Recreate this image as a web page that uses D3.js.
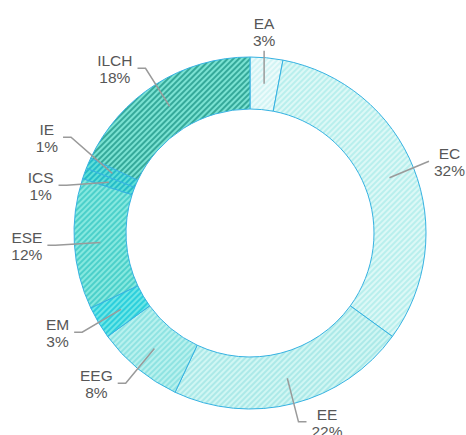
<!DOCTYPE html>
<html>
<head>
<meta charset="utf-8">
<script src="https://cdn.jsdelivr.net/npm/d3@7"></script>
<style>
  body { margin: 0; background: #fff; }
  text { font-family: "Liberation Sans", Arial, sans-serif; font-size: 15.5px; fill: #575757; }
</style>
</head>
<body>
<script>
// data
const categories = ['EA', 'EC', 'EE', 'EEG', 'EM', 'ESE', 'ICS', 'IE', 'ILCH'];
const values = [3, 32, 22, 8, 3, 12, 1, 1, 18];

// hatch colours per slice: [background, stripe]
const palette = [
  ['#ecfbfb', '#d2f4f4'],
  ['#dcf8f6', '#b9efed'],
  ['#d0f6f3', '#ace9e8'],
  ['#b8f1ee', '#8fe3e2'],
  ['#6de6e6', '#2ccfdc'],
  ['#86e8df', '#4cd0ca'],
  ['#5fded8', '#25bcc8'],
  ['#5fded8', '#25bcc8'],
  ['#7ae2d2', '#35a99a']
];

const width = 466, height = 435;
const cx = 250, cy = 233;
const outerR = 176, innerR = 124;
const midR = (outerR + innerR) / 2;
const labelR = 195;
const topLabelR = 183;
const gap = 48;

const svg = d3.select('body').append('svg')
  .attr('width', width)
  .attr('height', height);

const defs = svg.append('defs');
palette.forEach(([bg, fg], i) => {
  const p = defs.append('pattern')
    .attr('id', `hatch${i}`)
    .attr('patternUnits', 'userSpaceOnUse')
    .attr('width', 4)
    .attr('height', 4)
    .attr('patternTransform', 'rotate(45)');
  p.append('rect').attr('width', 4).attr('height', 4).attr('fill', bg);
  p.append('line')
    .attr('x1', 1).attr('y1', 0).attr('x2', 1).attr('y2', 4)
    .attr('stroke', fg).attr('stroke-width', 2);
});

const pie = d3.pie().sort(null).value(d => d.value);
const arcs = pie(categories.map((name, i) => ({ name, value: values[i] })));
const arc = d3.arc().innerRadius(innerR).outerRadius(outerR);
const total = d3.sum(values);

const g = svg.append('g').attr('transform', `translate(${cx},${cy})`);

g.selectAll('path.slice')
  .data(arcs)
  .join('path')
  .attr('class', 'slice')
  .attr('d', arc)
  .attr('fill', d => `url(#hatch${d.index})`)
  .attr('stroke', '#36b2e2')
  .attr('stroke-width', 1);

// label layout
const labels = arcs.map(d => {
  const a = (d.startAngle + d.endAngle) / 2;
  const s = Math.sin(a), c = Math.cos(a);
  const top = Math.abs(s) < 0.25 && c > 0;
  return {
    d, side: s >= 0 ? 1 : -1, top,
    sx: s * midR, sy: -c * midR,
    x: top ? s * midR : s * labelR,
    y: -c * (top ? topLabelR : labelR)
  };
});

// push overlapping labels apart on each side
[-1, 1].forEach(side => {
  const list = labels.filter(l => !l.top && l.side === side).sort((a, b) => a.y - b.y);
  for (let k = 0; k < 60; k++) {
    for (let i = 1; i < list.length; i++) {
      const o = gap - (list[i].y - list[i - 1].y);
      if (o > 0) { list[i].y += o / 2; list[i - 1].y -= o / 2; }
    }
  }
});

const lbl = g.selectAll('g.label')
  .data(labels)
  .join('g')
  .attr('class', 'label');

const txt = lbl.append('text').attr('text-anchor', 'middle');
txt.append('tspan').text(l => l.d.data.name);
txt.append('tspan').text(l => `${Math.round(l.d.data.value / total * 100)}%`);

lbl.each(function (l) {
  const t = d3.select(this).select('text');
  const w = d3.max(t.selectAll('tspan').nodes(), n => n.getComputedTextLength());
  let ex, tx;
  if (l.top) {
    ex = l.x; tx = l.x;
    t.selectAll('tspan').attr('x', tx).attr('y', (_, i) => l.y - 22 + i * 17);
  } else {
    ex = l.x + l.side * 8;
    tx = ex + l.side * (5 + w / 2);
    // keep text inside the chart
    const right = cx + tx + w / 2;
    if (right > width - 1) {
      tx -= right - (width - 1);
      ex = tx - l.side * (5 + w / 2);
    }
    const left = cx + tx - w / 2;
    if (left < 1) {
      tx += 1 - left;
      ex = tx - l.side * (5 + w / 2);
    }
    t.selectAll('tspan').attr('x', tx).attr('y', (_, i) => l.y - 2 + i * 17);
  }
  const pts = l.top ? [[l.sx, l.sy], [l.x, l.y]] : [[l.sx, l.sy], [l.x, l.y], [ex, l.y]];
  if (!l.top && l.side * ex < l.side * l.x) pts.splice(1, 1);
  d3.select(this).insert('path', 'text')
    .attr('d', d3.line()(pts))
    .attr('fill', 'none')
    .attr('stroke', '#9a9a9a')
    .attr('stroke-width', 1.5);
});
</script>
</body>
</html>
